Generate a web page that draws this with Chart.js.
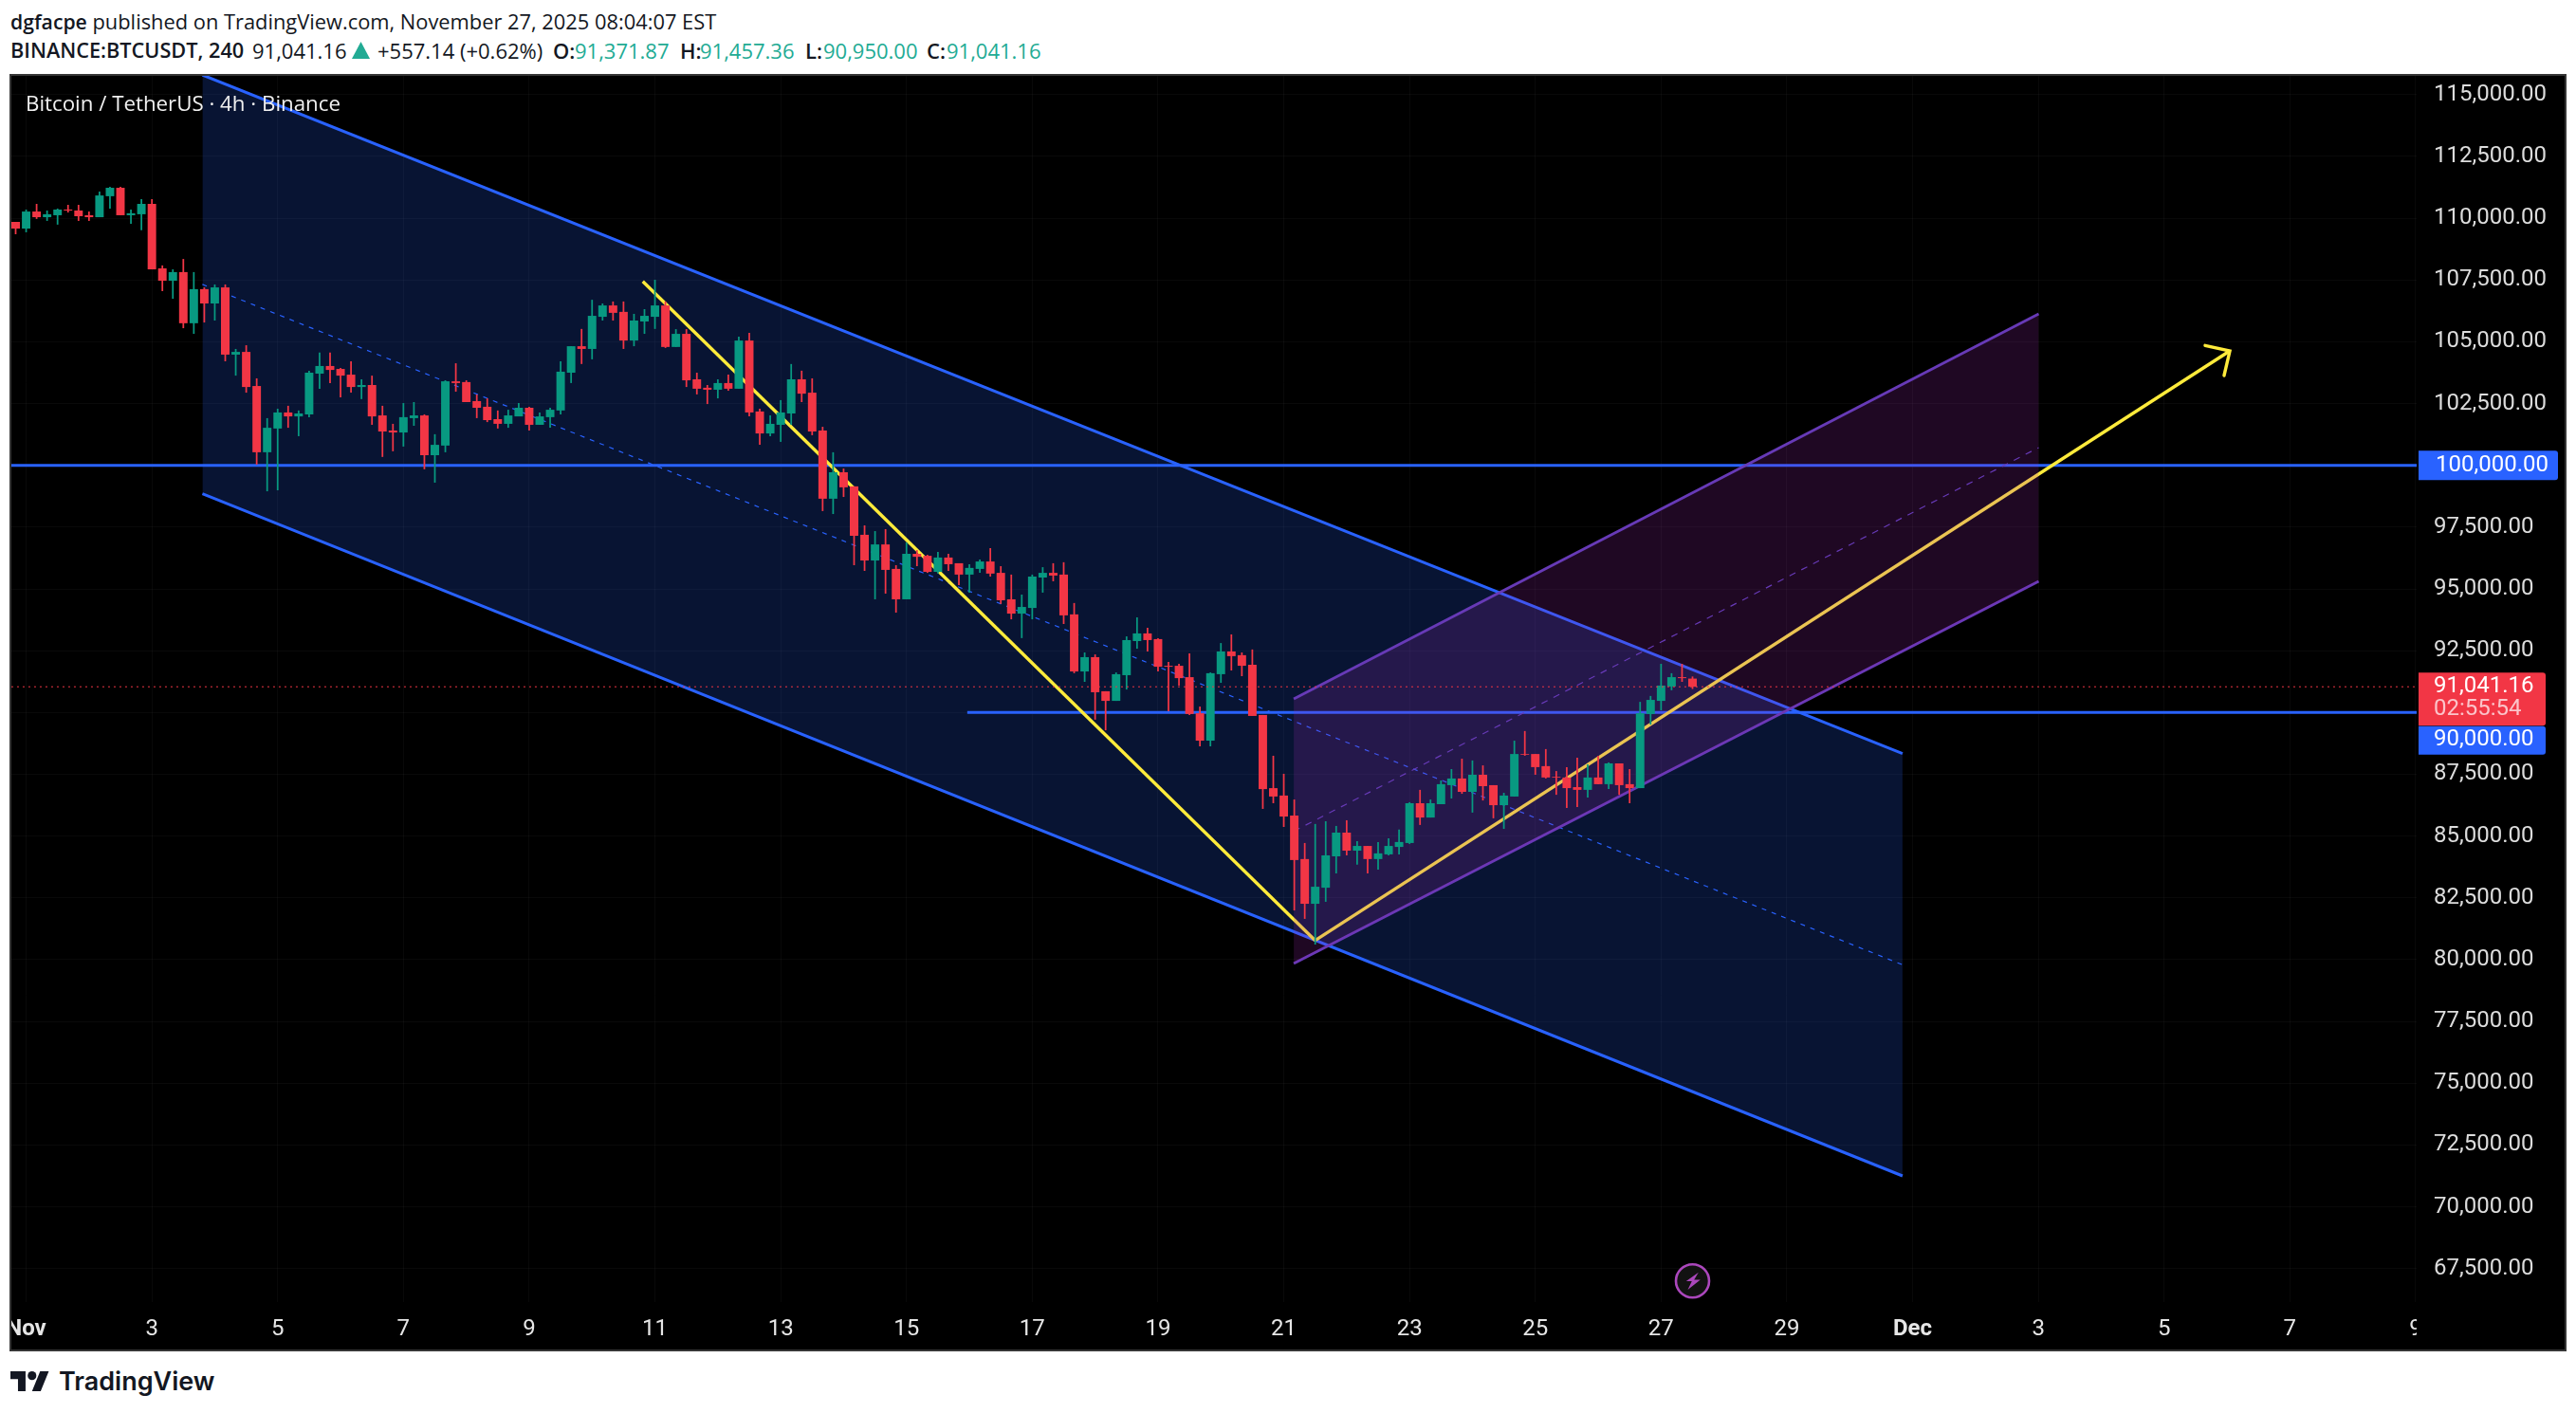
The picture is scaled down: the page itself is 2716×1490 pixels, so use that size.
<!DOCTYPE html>
<html>
<head>
<meta charset="utf-8">
<title>BTCUSDT 4h</title>
<script src="https://cdn.jsdelivr.net/npm/chart.js@4/dist/chart.umd.min.js"></script>
<style>
  html, body { margin: 0; padding: 0; background: #fff; }
  body { width: 2716px; height: 1490px; position: relative; overflow: hidden; font-family: "Open Sans", sans-serif; color: #131722; }
  .t { position: absolute; white-space: nowrap; font-size: 22px; line-height: 30px; }
  .b { font-weight: 600; }
  .up { color: #22ab94; }
  #frame { position: absolute; left: 10px; top: 78px; width: 2696px; height: 1347px; box-sizing: border-box; border: 2px solid #363636; background: #000; }
  #wrap { position: absolute; left: 12px; top: 80px; width: 2692px; height: 1343px; }
  #legend { position: absolute; left: 27px; top: 94px; color: #f0f0f0; font-size: 22.3px; font-weight: 500; line-height: 30px; white-space: nowrap; }
  #logoText { position: absolute; left: 62px; top: 1439px; font-family: Inter, sans-serif; font-weight: 600; font-size: 27px; line-height: 36px; color: #131722; }
</style>
</head>
<body>
<div class="t" style="left:11px;top:8px;font-size:21.85px"><span class="b" style="font-size:21.2px">dgfacpe</span> published on TradingView.com, November 27, 2025 08:04:07 EST</div>
<div class="t b" style="left:11px;top:38px;font-size:21.7px">BINANCE:BTCUSDT, 240</div>
<div class="t" style="left:266px;top:38px">91,041.16</div>
<svg style="position:absolute;left:371px;top:44px" width="19" height="18"><path d="M9.5 0 L19 18 L0 18 Z" fill="#22ab94"/></svg>
<div class="t" style="left:398px;top:38px">+557.14 (+0.62%)</div>
<div class="t b" style="left:583px;top:38px">O:</div><div class="t up" style="left:606px;top:38px">91,371.87</div>
<div class="t b" style="left:717px;top:38px">H:</div><div class="t up" style="left:738px;top:38px">91,457.36</div>
<div class="t b" style="left:849px;top:38px">L:</div><div class="t up" style="left:868px;top:38px">90,950.00</div>
<div class="t b" style="left:977px;top:38px">C:</div><div class="t up" style="left:998px;top:38px">91,041.16</div>

<div id="frame"></div>
<div id="wrap"><canvas id="chartCanvas"></canvas></div>
<div id="legend">Bitcoin / TetherUS · 4h · Binance</div>

<svg style="position:absolute;left:11px;top:1446px" width="41" height="21" viewBox="0 4 36 18" preserveAspectRatio="none"><path d="M14 22H7V11H0V4h14v18zM28 22h-8l7.5-18h8L28 22z" fill="#131722"/><circle cx="20" cy="8" r="4" fill="#131722"/></svg>
<div id="logoText">TradingView</div>

<script>
// candles, 4h
const opens = [
  109850,109580,110270,110040,110120,110350,110310,110120,110040,110890,
  111230,110120,110160,110580,107970,107470,107820,105750,107130,106550,
  107200,104480,104590,103210,100530,101490,102140,101980,102060,103710,
  104020,103900,103670,103170,103250,102020,101410,101330,101910,102020,
  100410,100800,103400,103370,102600,102370,101870,101680,101980,102330,
  101640,101950,102220,103750,104820,104710,106010,106470,106210,105050,
  105820,106010,106470,104790,105320,103480,103140,103060,103330,103100,
  105050,102180,101290,101640,102100,103480,102940,101410,98650,99720,
  99150,97190,96150,96800,95810,94580,96420,96340,95690,96270,
  96040,95580,95810,96110,95650,94580,94000,94230,95460,95650,
  95580,93970,91660,92240,90860,90470,91510,92890,93200,92970,
  91890,91890,91430,89970,88860,91550,92470,92320,91930,89900,
  86940,86640,85830,84070,82260,82910,84180,85140,84410,84600,
  84070,84260,84560,84720,86330,85750,86290,87060,87330,86790,
  87480,87060,86250,86600,88320,88320,87830,87400,87370,86980,
  86870,87370,87100,87940,87100,86940,89940,90470,91050,91430,
  91371.87
];
const highs = [
  109850,110350,110580,110310,110390,110540,110540,110270,111080,111270,
  111270,110350,110770,110770,108090,107930,108350,107820,107200,107320,
  107320,104710,104860,103520,101910,102290,102410,102220,103830,104560,
  104560,103940,104210,103480,103630,102410,101680,102520,102560,102060,
  101260,103440,104130,103440,102870,102710,102220,102250,102520,102370,
  102140,102330,104210,104820,105520,106700,106550,106630,106630,106130,
  106320,107510,106630,105510,105510,103750,103250,103480,103670,105210,
  105360,102290,102020,102640,104100,103830,103520,101560,100530,99870,
  99150,97570,97340,97420,95960,96880,96570,96380,96500,96420,
  96040,96000,96190,96650,95920,95580,94770,95580,95880,96040,
  96080,94430,92430,92350,90860,91620,93080,93850,93430,93010,
  92050,91970,92390,90240,91620,92810,93160,92430,92550,89900,
  88250,87520,86480,84720,85490,85600,85410,85640,84790,84600,
  84760,84910,85260,86370,86870,86480,87250,87710,88130,88060,
  87860,87060,86750,88860,89250,88320,88520,87630,87790,88170,
  87900,88250,87980,87940,87710,90430,90670,91970,91590,91970,
  91457.36
];
const lows = [
  109350,109430,109970,109890,109740,110230,109890,109890,110040,110390,
  110120,109770,109510,107930,107050,106740,105550,105320,105780,105860,
  104210,103630,102940,100030,98950,98990,101520,101180,101950,103100,
  103330,102750,102940,102680,101640,100340,100570,100760,101600,99840,
  99300,100530,102980,102560,101910,101750,101490,101520,101980,101410,
  101640,101520,102060,103330,104100,104290,105860,105860,104710,104820,
  105320,105520,104750,104790,103170,102870,102480,102710,103020,103100,
  101980,100830,101180,100950,101640,102560,101220,98150,98030,98720,
  95960,95730,94580,94810,94040,94580,95920,95650,95620,95730,
  95150,94850,95650,95500,94390,93770,93010,93770,94850,95310,
  93580,91590,91240,89710,89280,90470,90930,92580,92470,91660,
  90050,91090,89900,88630,88630,91200,91700,91470,89860,86100,
  86330,85370,81990,81650,80610,82340,83490,84220,83840,83490,
  83640,84220,84260,84680,85450,85750,86290,86520,86710,85950,
  86440,85720,85290,86600,88250,87480,87330,86670,86140,86180,
  86560,87100,86900,86670,86330,86940,89510,90090,90900,91240,
  90950
];
const closes = [
  109580,110270,110040,110160,110350,110310,110080,110040,110920,111230,
  110120,110200,110580,107930,107470,107820,105750,107130,106550,107200,
  104480,104590,103170,100530,101520,102140,101980,102100,103750,104020,
  103860,103630,103170,103250,101980,101370,101330,101950,102020,100410,
  100830,103400,103330,102560,102330,101830,101680,102020,102330,101640,
  101980,102250,103790,104820,104710,106050,106470,106170,105050,105860,
  106050,106470,104790,105320,103440,103100,103060,103330,103100,105050,
  102140,101290,101680,102140,103480,102900,101370,98650,99720,99110,
  97150,96150,96800,95770,94580,96420,96300,95690,96270,96000,
  95580,95850,96110,95620,94540,94000,94270,95500,95650,95540,
  93930,91660,92240,90820,90470,91550,92930,93200,92930,91850,
  91850,91390,89940,88860,91590,92470,92280,91890,89860,86900,
  86600,85790,84030,82260,82950,84220,85140,84410,84600,84070,
  84300,84600,84760,86330,85750,86330,87100,87330,86790,87480,
  87020,86250,86640,88320,88290,87790,87370,87370,86940,86870,
  87370,87100,87940,87060,86940,89970,90510,91090,91430,91390,
  91041.16
];

// axes
const priceTicks = [115000,112500,110000,107500,105000,102500,100000,97500,95000,92500,90000,87500,85000,82500,80000,77500,75000,72500,70000,67500];
const boxedPrices = [100000, 90000];
const dayTicks = [1,13,25,37,49,61,73,85,97,109,121,133,145,157,169,181,193,205,217,229];
const dayLabels = ['Nov','3','5','7','9','11','13','15','17','19','21','23','25','27','29','Dec','3','5','7','9'];

// drawings, [candle index, price]
const blueUpper = [[17.82,115797],[180.04,88338]];
const blueMiddle = [[17.82,107323],[180.04,79793]];
const blueLower = [[17.82,98849],[180.04,71249]];
const level100k = [[-0.41,100000],[229.1,100000]];
const level90k = [[90.8,90000],[229.1,90000]];
const yellowDown = [[59.84,107444],[124,80777]];
const yellowUp = [[124,80777],[211.27,104631]];
const yellowHead = [[208.91,104850],[211.27,104631],[210.72,103634]];
const purpleUpper = [[121.95,90549],[193.03,106128]];
const purpleMiddle = [[121.95,85196],[193.03,100718]];
const purpleLower = [[121.95,79844],[193.03,95307]];
const lastPriceLine = [[-0.41,91041.16],[229.1,91041.16]];

const RED = '#F23645', GREEN = '#089981', BLUE = '#2962FF', PURPLE = '#673AB7', YELLOW = '#FFEB3B';

function pts(arr) {
  return arr.map(p => ({ x: p[0], y: p[1] }));
}

function line(data, color, order, extra) {
  return Object.assign({
    type: 'line', data: pts(data), borderColor: color, borderWidth: 3,
    pointRadius: 0, tension: 0, fill: false, order: order
  }, extra || {});
}

const candleColors = closes.map((c, i) => c >= opens[i] ? GREEN : RED);

const datasets = [
  line(blueUpper, BLUE, 60, { fill: '+1', backgroundColor: 'rgba(41,98,255,0.2)' }),
  line(blueLower, BLUE, 60),
  line(blueMiddle, BLUE, 59, { borderWidth: 1.2, borderDash: [5, 6] }),
  line(level100k, BLUE, 55),
  line(level90k, BLUE, 55),
  line(yellowDown, YELLOW, 50, { borderWidth: 3.4 }),
  line(yellowUp, YELLOW, 50, { borderWidth: 3.4 }),
  line(yellowHead, YELLOW, 50, { borderWidth: 3.4, borderCapStyle: 'round' }),
  line(purpleUpper, PURPLE, 40, { fill: '+1', backgroundColor: 'rgba(156,39,176,0.2)' }),
  line(purpleLower, PURPLE, 40),
  line(purpleMiddle, PURPLE, 39, { borderWidth: 1.2, borderDash: [7, 7] }),
  { type: 'bar', data: highs.map((h, i) => ({ x: i, y: [lows[i], h] })), backgroundColor: candleColors, grouped: false, barPercentage: 0.16, categoryPercentage: 1, order: 5 },
  { type: 'bar', data: opens.map((o, i) => ({ x: i, y: [Math.min(o, closes[i]), Math.max(o, closes[i])] })), backgroundColor: candleColors, grouped: false, barPercentage: 0.81, categoryPercentage: 1, order: 4 },
  line(lastPriceLine, RED, 3, { borderWidth: 1, borderDash: [2, 4] })
];

function box(ctx, x, y, w, h, color) {
  ctx.fillStyle = color;
  ctx.beginPath();
  ctx.roundRect(x, y, w, h, [0, 3, 3, 0]);
  ctx.fill();
}

// last price / level tags on the price scale and the flash icon
const overlays = {
  id: 'overlays',
  afterDraw(chart) {
    const ctx = chart.ctx, a = chart.chartArea, y = chart.scales.y, x = chart.scales.x;
    ctx.save();
    ctx.fillStyle = '#000';
    ctx.fillRect(a.right, a.bottom, chart.width - a.right, chart.height - a.bottom);

    const left = a.right + 2;
    const y100 = y.getPixelForValue(100000), yLast = y.getPixelForValue(91041.16);
    box(ctx, left, y100 - 15.5, 147, 31, BLUE);
    box(ctx, left, yLast - 15, 134, 56, RED);
    box(ctx, left, yLast + 41.5, 134, 30, BLUE);

    ctx.textAlign = 'left';
    ctx.textBaseline = 'middle';
    ctx.font = '24px Roboto';
    ctx.fillStyle = '#fff';
    ctx.fillText('100,000.00', a.right + 20, y100);
    ctx.fillText('91,041.16', a.right + 18, yLast);
    ctx.fillText('90,000.00', a.right + 18, yLast + 56);
    ctx.fillStyle = '#fbc4ca';
    ctx.fillText('02:55:54', a.right + 18, yLast + 24);

    // flash icon above the last candle
    const cx = x.getPixelForValue(160), cy = y.getPixelForValue(67000);
    ctx.beginPath();
    ctx.arc(cx, cy, 17.5, 0, Math.PI * 2);
    ctx.fillStyle = '#121212';
    ctx.fill();
    ctx.lineWidth = 2.6;
    ctx.strokeStyle = '#AB47BC';
    ctx.stroke();
    ctx.fillStyle = '#AB47BC';
    ctx.beginPath();
    ctx.moveTo(cx + 6.3, cy - 9);
    ctx.lineTo(cx - 6.7, cy + 0.3);
    ctx.lineTo(cx - 0.7, cy + 0.3);
    ctx.lineTo(cx - 5, cy + 9.3);
    ctx.lineTo(cx + 8.3, cy - 1.3);
    ctx.lineTo(cx + 1.7, cy - 1.3);
    ctx.closePath();
    ctx.fill();
    ctx.restore();
  }
};

new Chart(document.getElementById('chartCanvas').getContext('2d'), {
  data: { datasets: datasets },
  options: {
    responsive: true,
    maintainAspectRatio: false,
    animation: false,
    parsing: { xAxisKey: 'x', yAxisKey: 'y' },
    layout: { padding: 0 },
    plugins: { legend: { display: false }, title: { display: false }, tooltip: { enabled: false } },
    scales: {
      x: {
        type: 'linear',
        min: -0.407,
        max: 229.095,
        offset: false,
        grid: { offset: false, color: 'rgba(255,255,255,0.035)', drawTicks: false },
        border: { display: false },
        afterBuildTicks(scale) { scale.ticks = dayTicks.map(v => ({ value: v })); },
        afterFit(scale) { scale.height = 50; scale.paddingLeft = 0; scale.paddingRight = 0; },
        ticks: {
          autoSkip: false,
          maxRotation: 0,
          minRotation: 0,
          padding: 15,
          color: '#e6e6e6',
          font: c => ({ family: 'Roboto', size: 24, weight: (c.index === 0 || c.index === 15) ? '700' : '400' }),
          callback: (v, i) => dayLabels[i]
        }
      },
      y: {
        type: 'linear',
        position: 'right',
        min: 66146,
        max: 115759,
        grid: { color: 'rgba(255,255,255,0.035)', drawTicks: false },
        border: { display: false },
        afterBuildTicks(scale) { scale.ticks = priceTicks.map(v => ({ value: v })); },
        afterFit(scale) { scale.width = 156; scale.paddingTop = 0; scale.paddingBottom = 0; },
        ticks: {
          autoSkip: false,
          padding: 18,
          color: '#dcdcdc',
          font: { family: 'Roboto', size: 24 },
          callback: v => boxedPrices.includes(v) ? '' : v.toLocaleString('en-US', { minimumFractionDigits: 2 })
        }
      }
    }
  },
  plugins: [overlays]
});
</script>
</body>
</html>
